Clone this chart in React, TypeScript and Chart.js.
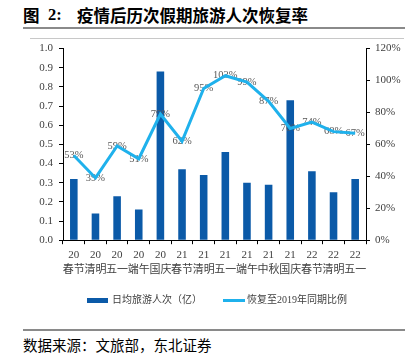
import React, { useEffect, useRef } from 'react';
import { Chart, registerables } from 'chart.js';
Chart.register(...registerables);

const years = ['20', '20', '20', '20', '20', '21', '21', '21', '21', '21', '21', '22', '22', '22'];
const holidays = ['春节', '清明', '五一', '端午', '国庆', '春节', '清明', '五一', '端午', '中秋', '国庆', '春节', '清明', '五一'];
const dailyTrips = [0.32, 0.14, 0.23, 0.16, 0.88, 0.37, 0.34, 0.46, 0.30, 0.29, 0.73, 0.36, 0.25, 0.32];
const recovery = [53, 39, 59, 51, 79, 62, 95, 103, 99, 87, 70, 74, 68, 67];
const barName = '日均旅游人次（亿）';
const lineName = '恢复至2019年同期比例';

const BAR_COLOR = '#0b5aa8';
const LINE_COLOR = '#1fb1ec';
const TEXT_COLOR = '#404040';
const FONT = "'Liberation Serif', 'Times New Roman', 'Noto Sans CJK SC', serif";
const CANVAS_TOP = 36;

const labelPlugin = {
  id: 'pctLabels',
  afterDatasetDraw(chart: any, args: any) {
    if (args.index !== 0) return;
    const meta = chart.getDatasetMeta(1);
    const ctx = chart.ctx;
    ctx.save();
    ctx.font = `10.5px ${FONT}`;
    ctx.fillStyle = '#595959';
    ctx.textAlign = 'center';
    ctx.textBaseline = 'middle';
    meta.data.forEach((pt: any, i: number) => {
      ctx.fillText(recovery[i] + '%', pt.x, pt.y);
    });
    ctx.restore();
  },
};

const legendPlugin = {
  id: 'customLegend',
  afterDraw(chart: any) {
    const ctx = chart.ctx;
    const cy = 300.5 - CANVAS_TOP;
    ctx.save();
    ctx.font = `10px ${FONT}`;
    ctx.fillStyle = TEXT_COLOR;
    ctx.textBaseline = 'middle';
    ctx.textAlign = 'left';
    ctx.fillStyle = chart.data.datasets[0].backgroundColor;
    ctx.fillRect(87, cy - 2.5, 21, 5);
    ctx.fillStyle = TEXT_COLOR;
    ctx.fillText(chart.data.datasets[0].label, 112, cy);
    ctx.fillStyle = chart.data.datasets[1].borderColor;
    ctx.fillRect(223, cy - 1.5, 22, 3);
    ctx.fillStyle = TEXT_COLOR;
    ctx.fillText(chart.data.datasets[1].label, 247, cy);
    ctx.restore();
  },
};

export default function App() {
  const ref = useRef<HTMLCanvasElement>(null);
  useEffect(() => {
    const axisGrid = {
      display: true,
      drawOnChartArea: false,
      drawTicks: true,
      tickLength: 4,
      color: '#000',
    };
    const chart = new Chart(ref.current!, {
      type: 'bar',
      data: {
        labels: years.map((y, i) => [y, holidays[i]]),
        datasets: [
          {
            type: 'bar',
            label: barName,
            data: dailyTrips,
            backgroundColor: BAR_COLOR,
            categoryPercentage: 1,
            barPercentage: 0.35,
            yAxisID: 'y',
            order: 1,
          } as any,
          {
            type: 'line',
            label: lineName,
            data: recovery,
            borderColor: LINE_COLOR,
            backgroundColor: LINE_COLOR,
            borderWidth: 3,
            pointRadius: 0,
            tension: 0,
            yAxisID: 'y1',
            order: 0,
          } as any,
        ],
      },
      options: {
        responsive: false,
        animation: false,
        layout: { padding: { top: 0, left: 0, right: 0, bottom: 37 } },
        plugins: {
          tooltip: { enabled: false },
          legend: { display: false },
        },
        scales: {
          x: {
            grid: { ...axisGrid, offset: true },
            border: { color: '#000', width: 1 },
            ticks: {
              color: TEXT_COLOR,
              font: { size: 11, family: FONT, lineHeight: 1.4 },
              maxRotation: 0,
              autoSkip: false,
              padding: 3,
            },
          },
          y: {
            position: 'left',
            min: 0,
            max: 1,
            grid: axisGrid,
            border: { color: '#000', width: 1 },
            ticks: {
              stepSize: 0.1,
              color: TEXT_COLOR,
              font: { size: 11, family: FONT },
              padding: 6,
              callback: (v: any) => Number(v).toFixed(1),
            },
            afterFit: (s: any) => { s.width = 63; },
          },
          y1: {
            position: 'right',
            min: 0,
            max: 120,
            grid: axisGrid,
            border: { color: '#000', width: 1 },
            ticks: {
              stepSize: 20,
              color: TEXT_COLOR,
              font: { size: 11, family: FONT },
              padding: 5,
              callback: (v: any) => v + '%',
            },
            afterFit: (s: any) => { s.width = 47; },
          },
        },
      },
      plugins: [labelPlugin, legendPlugin],
    });
    return () => chart.destroy();
  }, []);

  const titleStyle: React.CSSProperties = {
    position: 'absolute', top: 5, fontFamily: "'Noto Sans CJK SC', sans-serif", fontWeight: 700,
    fontSize: 16.5, lineHeight: '20px', color: '#000', whiteSpace: 'nowrap',
  };

  return (
    <div style={{ position: 'fixed', left: 0, top: 0, width: 413, height: 363, background: '#fff', overflow: 'hidden' }}>
      <div style={{ ...titleStyle, left: 23 }}>图</div>
      <div style={{ ...titleStyle, left: 48, fontFamily: FONT }}>2:</div>
      <div style={{ ...titleStyle, left: 77 }}>疫情后历次假期旅游人次恢复率</div>
      <div style={{ position: 'absolute', left: 23, top: 27, width: 382, height: 2, background: '#8a8a8a' }} />
      <div style={{ position: 'absolute', left: 30, top: 38, width: 374, height: 1, background: '#c8c8c8' }} />
      <canvas ref={ref} width={413} height={318 - CANVAS_TOP} style={{ position: 'absolute', left: 0, top: CANVAS_TOP, width: 413, height: 318 - CANVAS_TOP }} />
      <div style={{ position: 'absolute', left: 23, top: 329, width: 382, height: 2, background: '#8a8a8a' }} />
      <div style={{ position: 'absolute', left: 23, top: 336, fontFamily: "'Noto Sans CJK SC', sans-serif", fontSize: 14.5, lineHeight: '18px', color: '#000', whiteSpace: 'nowrap' }}>
        数据来源：文旅部，东北证券
      </div>
    </div>
  );
}
